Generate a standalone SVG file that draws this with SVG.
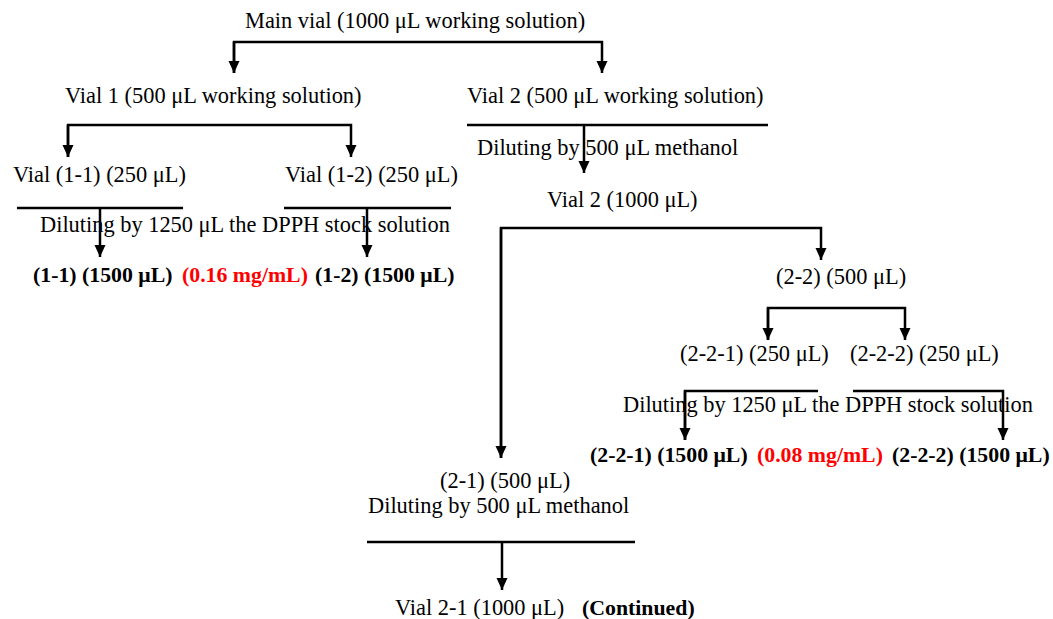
<svg xmlns="http://www.w3.org/2000/svg" width="1053" height="619" viewBox="0 0 1053 619">
<style>
text{font-family:"Liberation Serif","Times New Roman",serif;font-size:22.4px;fill:#000}
.b{font-weight:bold;font-size:21.8px}
.r{fill:#ff0000;font-weight:bold}
.c{fill:none;stroke:#000;stroke-width:2.5}
</style>
<defs>
<marker id="ah" markerUnits="userSpaceOnUse" markerWidth="12" markerHeight="12" refX="12" refY="6" orient="auto">
<path d="M0,0.5 L12,6 L0,11.5 z" fill="#000"/>
</marker>
</defs>
<rect width="1053" height="619" fill="#fff"/>
<g id="connectors">
<path class="c" d="M234,73 V42 H602 V73" marker-end="url(#ah)"/>
<path class="c" d="M234,42 V73" marker-end="url(#ah)"/>
<path class="c" d="M68,157 V125 H351 V157" marker-end="url(#ah)"/>
<path class="c" d="M68,125 V157" marker-end="url(#ah)"/>
<path class="c" d="M467,125 H768"/>
<path class="c" d="M584,125 V173" marker-end="url(#ah)"/>
<path class="c" d="M17,208 H183"/>
<path class="c" d="M284,208 H451"/>
<path class="c" d="M100,208 V257" marker-end="url(#ah)"/>
<path class="c" d="M367,208 V257" marker-end="url(#ah)"/>
<path class="c" d="M501,458 V228 H821 V260" marker-end="url(#ah)"/>
<path class="c" d="M501,228 V458" marker-end="url(#ah)"/>
<path class="c" d="M768,340 V308 H905 V340" marker-end="url(#ah)"/>
<path class="c" d="M768,308 V340" marker-end="url(#ah)"/>
<path class="c" d="M685,440 V391 H818"/>
<path class="c" d="M685,391 V440" marker-end="url(#ah)"/>
<path class="c" d="M853,391 H1003 V440" marker-end="url(#ah)"/>
<path class="c" d="M367,542 H635"/>
<path class="c" d="M502,542 V590" marker-end="url(#ah)"/>
</g>
<g id="main"><text x="245" y="28">Main vial (1000 μL working solution)</text></g>
<g id="vial1"><text x="65" y="103">Vial 1 (500 μL working solution)</text></g>
<g id="vial2"><text x="467" y="103">Vial 2 (500 μL working solution)</text></g>
<g id="dil2"><text x="477" y="155">Diluting by 500 μL methanol</text></g>
<g id="vial2b"><text x="547" y="207">Vial 2 (1000 μL)</text></g>
<g id="vial11"><text x="13" y="182">Vial (1-1) (250 μL)</text></g>
<g id="vial12"><text x="285" y="182">Vial (1-2) (250 μL)</text></g>
<g id="dil1"><text x="40" y="232">Diluting by 1250 μL the DPPH stock solution</text></g>
<g id="res1"><text x="33" y="282" class="b">(1-1) (1500 μL) <tspan class="r" x="182">(0.16 mg/mL)</tspan> <tspan x="315">(1-2) (1500 μL)</tspan></text></g>
<g id="v22"><text x="776" y="284">(2-2) (500 μL)</text></g>
<g id="v221"><text x="680" y="361">(2-2-1) (250 μL)</text></g>
<g id="v222"><text x="850" y="361">(2-2-2) (250 μL)</text></g>
<g id="dil3"><text x="623" y="412">Diluting by 1250 μL the DPPH stock solution</text></g>
<g id="res2"><text x="590" y="462" class="b">(2-2-1) (1500 μL) <tspan class="r" x="757">(0.08 mg/mL)</tspan> <tspan x="892">(2-2-2) (1500 μL)</tspan></text></g>
<g id="v21"><text x="440" y="488">(2-1) (500 μL)</text></g>
<g id="dil4"><text x="368" y="513">Diluting by 500 μL methanol</text></g>
<g id="v21b"><text x="395" y="615">Vial 2-1 (1000 μL) <tspan class="b" x="582">(Continued)</tspan></text></g>
</svg>
